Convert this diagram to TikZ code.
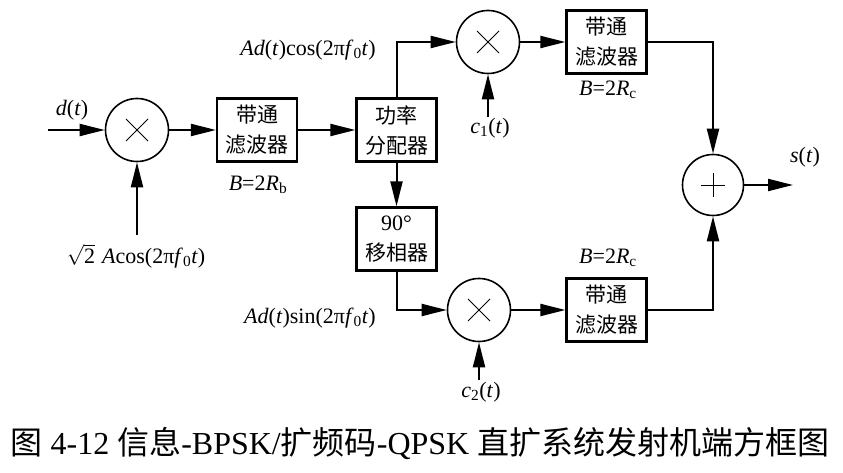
\documentclass[tikz,border=0pt]{standalone}
\usepackage{fontspec}
\setmainfont{Liberation Serif}
\newfontfamily\cjk{Noto Sans CJK SC}
\usetikzlibrary{arrows.meta}
\tikzset{
  blk/.style={draw, line width=2.2pt, minimum width=80pt, minimum height=63pt, inner sep=0pt, align=center, font=\cjk\fontsize{21}{30}\selectfont},
  mix/.style={draw, circle, line width=1.6pt, minimum size=63pt, inner sep=0pt},
  wire/.style={line width=2pt},
  arr/.style={wire, -{Triangle[length=25pt,width=12pt]}},
  sym/.style={line width=0.8pt},
  lbl/.style={font=\fontsize{22}{26}\selectfont, inner sep=0pt},
  captext/.style={font=\fontsize{32}{36}\selectfont, inner sep=0pt},
}
\begin{document}
\begin{tikzpicture}[x=1pt,y=-1pt]
\useasboundingbox (0,0) rectangle (843,473);
% blocks
\node[mix] (m1) at (137,130) {};
\node[blk] (bpf1) at (257,130) {带通\\滤波器};
\node[blk] (split) at (396.5,130) {功率\\分配器};
\node[blk] (ps) at (396.5,239) {\fontsize{22}{30}\selectfont\rmfamily 90°\\\cjk 移相器};
\node[mix] (m2) at (488,42) {};
\node[blk] (bpf2) at (606.5,42) {带通\\滤波器};
\node[mix] (m3) at (479,310) {};
\node[blk] (bpf3) at (606.5,310) {带通\\滤波器};
\node[circle, draw, line width=1.6pt, minimum size=61pt, inner sep=0pt] (add) at (713,185) {};
% symbols
\foreach \m in {m1,m2,m3}{
  \draw[sym] ([shift={(-11,-11)}]\m.center) -- ([shift={(11,11)}]\m.center);
  \draw[sym] ([shift={(-11,11)}]\m.center) -- ([shift={(11,-11)}]\m.center);
}
\draw[sym] ([shift={(-12,0)}]add.center) -- ([shift={(12,0)}]add.center);
\draw[sym] ([shift={(0,-12)}]add.center) -- ([shift={(0,12)}]add.center);
% free ends
\coordinate (in) at (48,130);
\coordinate (m1src) at (137,235);
\coordinate (c1src) at (488,117);
\coordinate (c2src) at (479,380);
\coordinate (out) at (793,185);
% connectors
\draw[arr] (in) -- (m1.west);
\draw[arr] (m1src) -- (m1.south);
\draw[arr] (m1.east) -- (bpf1.west);
\draw[arr] (bpf1.east) -- (split.west);
\draw[arr] (split.south) -- (ps.north);
\draw[arr] (split.north) |- (m2.west);
\draw[arr] (c1src) -- (m2.south);
\draw[arr] (m2.east) -- (bpf2.west);
\draw[arr] (bpf2.east) -| (add.north);
\draw[arr] (bpf3.east) -| (add.south);
\draw[arr] (add.east) -- (out);
\draw[arr] (ps.south) |- (m3.west);
\draw[arr] (c2src) -- (m3.south);
\draw[arr] (m3.east) -- (bpf3.west);
% labels
\node[lbl] (ld) at (72,110) {\textit{d}(\textit{t})};
\node[lbl] (lcar) at (136,256) {$\sqrt{\mbox{\fontsize{22}{26}\selectfont 2}}$\hspace{7pt}\textit{A}cos(2π\textit{f}\textsubscript{0}\textit{t})};
\node[lbl] (lb1) at (258,185) {\textit{B}=2\textit{R}\textsubscript{b}};
\node[lbl] (lcos) at (308,50) {\textit{Ad}(\textit{t})cos(2π\textit{f}\textsubscript{0}\textit{t})};
\node[lbl] (lc1) at (490,128) {\textit{c}\textsubscript{1}(\textit{t})};
\node[lbl] (lb2) at (608,90) {\textit{B}=2\textit{R}\textsubscript{c}};
\node[lbl] (lb3) at (608,258) {\textit{B}=2\textit{R}\textsubscript{c}};
\node[lbl] (ls) at (805,157) {\textit{s}(\textit{t})};
\node[lbl] (lsin) at (310,318) {\textit{Ad}(\textit{t})sin(2π\textit{f}\textsubscript{0}\textit{t})};
\node[lbl] (lc2) at (481,392) {\textit{c}\textsubscript{2}(\textit{t})};
\node[captext] (caption) at (420,443) {{\cjk 图} 4-12 {\cjk 信息}-BPSK/{\cjk 扩频码}-QPSK {\cjk 直扩系统发射机端方框图}};
\end{tikzpicture}
\end{document}
